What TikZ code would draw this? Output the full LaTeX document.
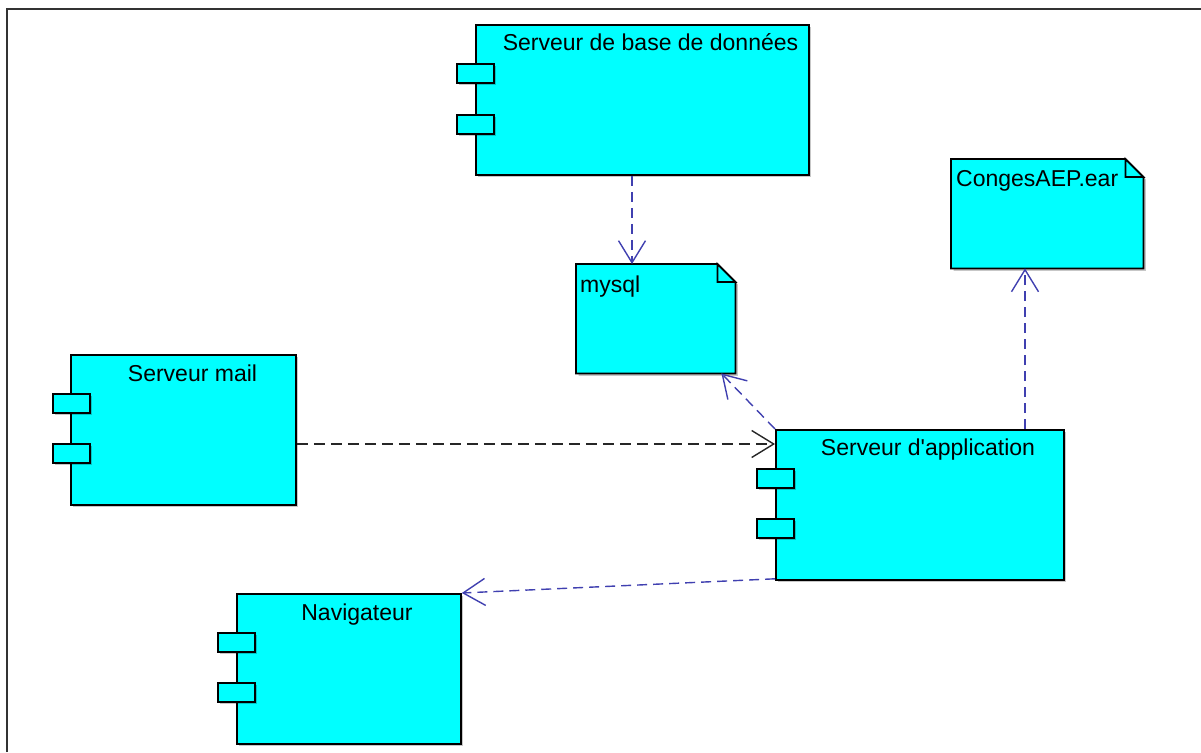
\documentclass[tikz,border=0pt]{standalone}
\usepackage{fontspec}
\setmainfont{Liberation Sans}
\usetikzlibrary{arrows.meta,calc,shadows}
\definecolor{compfill}{RGB}{0,255,255}
\definecolor{deplink}{RGB}{64,64,176}
\begin{document}
\begin{tikzpicture}[x=1pt,y=-1pt,
  softshadow/.style={drop shadow={shadow xshift=2.5pt,shadow yshift=-2.5pt,opacity=0.22,fill=black}},
  compbox/.style={rectangle,draw=black,line width=1.8pt,fill=compfill,inner sep=0pt,
    minimum width=#1,minimum height=150pt,anchor=north west,softshadow},
  port/.style={rectangle,draw=black,line width=1.8pt,fill=compfill,inner sep=0pt,
    minimum width=37pt,minimum height=19pt,anchor=north west,softshadow},
  noteanchor/.style={rectangle,draw=none,inner sep=0pt,minimum width=#1,minimum height=109pt,anchor=north west},
  noteline/.style={draw=black,line width=1.8pt,fill=compfill,line join=miter},
  title/.style={anchor=base,inner sep=0pt,font=\fontsize{23}{27}\selectfont},
  notetitle/.style={anchor=base west,inner sep=0pt,font=\fontsize{23}{27}\selectfont},
  dep/.style={draw=deplink,line width=1.4pt,dash pattern=on 10pt off 6pt,
    -{Straight Barb[length=22pt,width=27pt,line width=1.4pt]}},
  use/.style={draw=black!85,line width=1.4pt,dash pattern=on 11pt off 6pt,
    -{Straight Barb[length=22pt,width=27pt,line width=1.4pt]}}
]
\useasboundingbox (0,0) rectangle (1201,752);

% outer frame (top and left edges)
\draw[line width=2pt,black!80] (7,752) -- (7,9) -- (1201,9);

% note-like artifacts with folded corner
\newcommand{\dogear}[1]{%
  \draw[noteline,softshadow] (#1.north west) -- ($(#1.north east)+(-18,0)$)
     -- ($(#1.north east)+(0,18)$) -- (#1.south east) -- (#1.south west) -- cycle;
  \draw[noteline] ($(#1.north east)+(-18,0)$) -- ($(#1.north east)+(-18,18)$)
     -- ($(#1.north east)+(0,18)$) -- cycle;}

\node[noteanchor=159pt] (mysql) at (576,264) {};
\dogear{mysql}
\node[notetitle] (mysqlT) at (580,292) {mysql};

\node[noteanchor=192pt] (conges) at (951,159) {};
\dogear{conges}
\node[notetitle] (congesT) at (956,186) {CongesAEP.ear};

% components
\node[compbox=333pt] (db) at (475,24) {};
\node[port] (dbP1) at (456,63) {};
\node[port] (dbP2) at (456,114) {};
\node[title] (dbT) at (650.5,51) {Serveur de base de données};

\node[compbox=225pt] (mail) at (70,354) {};
\node[port] (mailP1) at (52,393) {};
\node[port] (mailP2) at (52,443) {};
\node[title] (mailT) at (192.5,381) {Serveur mail};

\node[compbox=288pt] (app) at (775,429) {};
\node[port] (appP1) at (756,468) {};
\node[port] (appP2) at (756,518) {};
\node[title] (appT) at (928,455) {Serveur d\textquotesingle application};

\node[compbox=224pt] (nav) at (236,593) {};
\node[port] (navP1) at (217,632) {};
\node[port] (navP2) at (217,682) {};
\node[title] (navT) at (357,620) {Navigateur};

% dependencies
\coordinate (dbOut) at ($(db.south west)+(157,0)$);
\draw[dep] (dbOut) -- (dbOut |- mysql.north);

\coordinate (mysqlIn) at ($(mysql.south east)+(-14,0)$);
\draw[dep] (app.north west) -- (mysqlIn);

\coordinate (appTop) at ($(app.north west)+(250,0)$);
\draw[dep] (appTop) -- (appTop |- conges.south);

\coordinate (mailOut) at ($(mail.north east)+(0,90)$);
\draw[use] (mailOut) -- (mailOut -| app.west);

\coordinate (appLow) at ($(app.south west)+(0,-2)$);
\draw[dep] (appLow) -- (nav.north east);
\end{tikzpicture}
\end{document}
